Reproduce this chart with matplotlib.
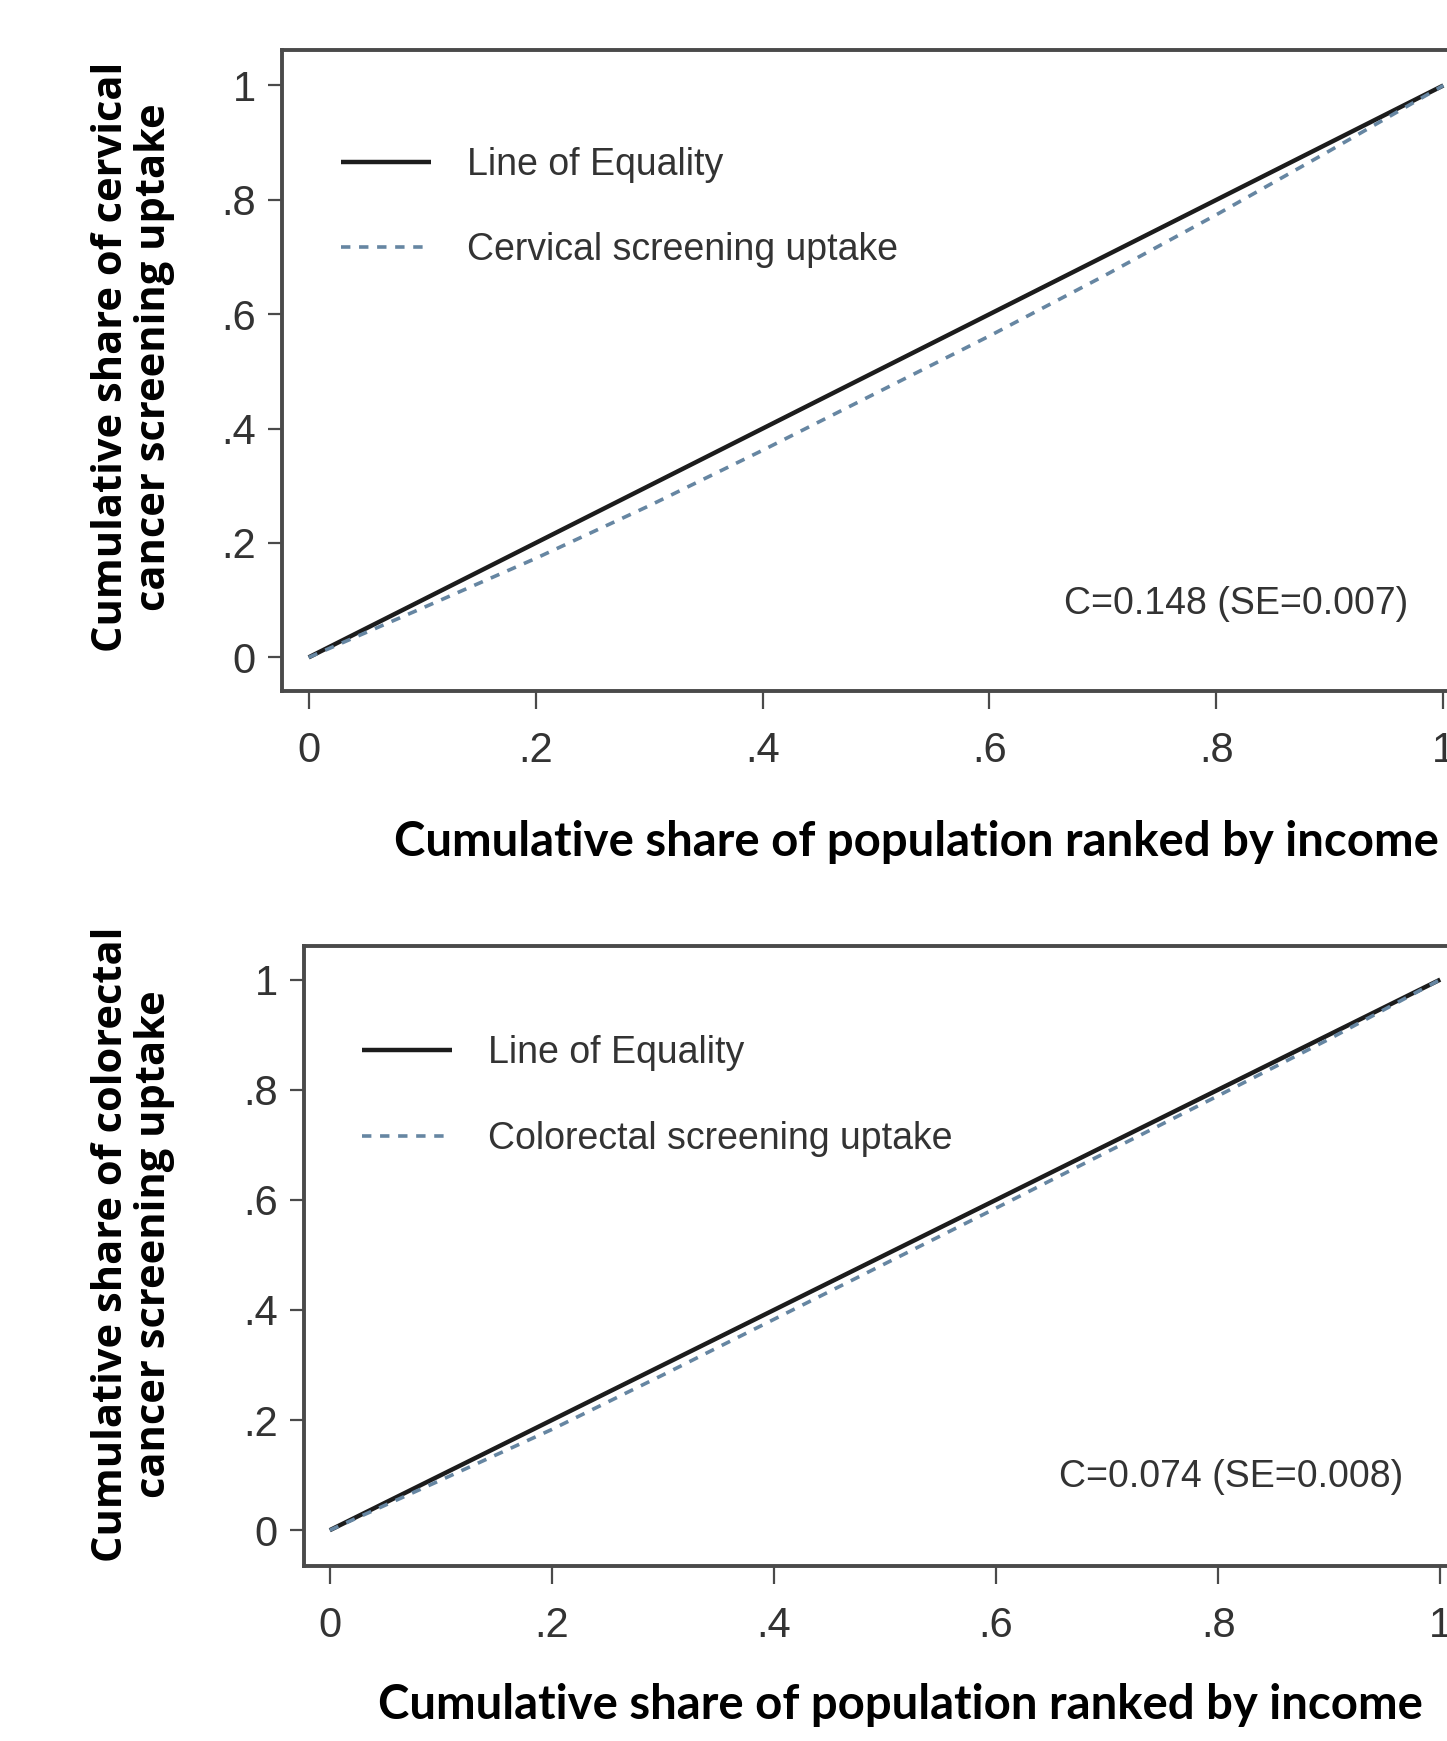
import matplotlib
matplotlib.use("Agg")
import matplotlib.pyplot as plt
from matplotlib import font_manager

# ---------------- data ----------------
pop_share = [0.0, 0.1, 0.2, 0.3, 0.4, 0.5, 0.6, 0.7, 0.8, 0.9, 1.0]
equality = [0.0, 0.1, 0.2, 0.3, 0.4, 0.5, 0.6, 0.7, 0.8, 0.9, 1.0]
cervical = [0.0, 0.086, 0.173, 0.265, 0.362, 0.462, 0.562, 0.666, 0.774, 0.886, 1.0]
colorectal = [0.0, 0.091, 0.183, 0.282, 0.383, 0.484, 0.585, 0.687, 0.789, 0.892, 1.0]
tick_vals = [0, 0.2, 0.4, 0.6, 0.8, 1.0]
tick_labels = ["0", ".2", ".4", ".6", ".8", "1"]
legend_equal = "Line of Equality"
legend_cerv = "Cervical screening uptake"
legend_colo = "Colorectal screening uptake"
annot_cerv = "C=0.148 (SE=0.007)"
annot_colo = "C=0.074 (SE=0.008)"
xlabel_txt = "Cumulative share of population ranked by income"
ylabel_cerv = "Cumulative share of cervical\ncancer screening uptake"
ylabel_colo = "Cumulative share of colorectal\ncancer screening uptake"

# ---------------- fonts ----------------
names = {f.name for f in font_manager.fontManager.ttflist}
narrow = "Liberation Sans Narrow" if "Liberation Sans Narrow" in names else "Liberation Sans"
bold_y = "Open Sans" if "Open Sans" in names else "DejaVu Sans"
bold_x = "Lato" if "Lato" in names else "DejaVu Sans"

W, H = 1447, 1741
fig = plt.figure(figsize=(W / 100, H / 100), dpi=100)

line_col = "#1c1c1c"
dash_col = "#6686a2"
frame_col = "#4a4a4a"
text_col = "#333333"
tick_fs = 30
leg_fs = 27


def panel(rect, xlim, ylim, series, label, annot, annot_xy, leg_anchor):
    ax = fig.add_axes(rect)
    ax.set_xlim(*xlim)
    ax.set_ylim(*ylim)
    ax.plot(pop_share, equality, color=line_col, lw=3.2, label=legend_equal,
            solid_capstyle="butt")
    ax.plot(pop_share, series, color=dash_col, lw=2.6, dashes=(2.6, 2.4),
            label=label)
    for s in ["top", "left", "bottom", "right"]:
        ax.spines[s].set_color(frame_col)
        ax.spines[s].set_linewidth(2.8)
    ax.set_xticks(tick_vals)
    ax.set_xticklabels(tick_labels)
    ax.set_yticks(tick_vals)
    ax.set_yticklabels(tick_labels)
    ax.tick_params(axis="y", length=10, width=1.6, pad=9, color=frame_col,
                   labelsize=tick_fs, labelcolor=text_col)
    ax.tick_params(axis="x", length=13, width=1.6, pad=16, color=frame_col,
                   labelsize=tick_fs, labelcolor=text_col)
    for lab in ax.get_xticklabels() + ax.get_yticklabels():
        lab.set_family(narrow)
    leg = ax.legend(loc="upper left", bbox_to_anchor=leg_anchor, frameon=False,
                    prop={"family": narrow, "size": leg_fs}, handlelength=2.4,
                    handletextpad=0.95, labelspacing=1.32, borderpad=0,
                    borderaxespad=0)
    for t in leg.get_texts():
        t.set_color(text_col)
    ax.text(annot_xy[0], annot_xy[1], annot, transform=ax.transAxes,
            ha="right", va="center", family=narrow, fontsize=leg_fs,
            color=text_col)
    return ax


# top panel
top_rect = [282 / W, 1 - 691 / H, 1188 / W, (691 - 50) / H]
panel(top_rect, (-0.0235, 1.0235), (-0.0588, 1.062), cervical, legend_cerv,
      annot_cerv, (0.9477, 0.135), (0.0497, 0.849))

# bottom panel
bot_rect = [304 / W, 1 - 1566 / H, 1162 / W, (1566 - 946) / H]
panel(bot_rect, (-0.0232, 1.0232), (-0.065, 1.061), colorectal, legend_colo,
      annot_colo, (0.9458, 0.1435), (0.0499, 0.856))

# axis titles
fig.text(916 / W, 1 - 842 / H, xlabel_txt, ha="center", va="center",
         family=bold_x, weight="bold", fontsize=34)
fig.text(900 / W, 1 - 1705 / H, xlabel_txt, ha="center", va="center",
         family=bold_x, weight="bold", fontsize=34)
fig.text(133 / W, 1 - 357 / H, ylabel_cerv, ha="center", va="center",
         rotation=90, family=bold_y, weight="bold", fontsize=30,
         multialignment="center", linespacing=1.06)
fig.text(133 / W, 1 - 1244 / H, ylabel_colo, ha="center", va="center",
         rotation=90, family=bold_y, weight="bold", fontsize=30,
         multialignment="center", linespacing=1.06)

fig.savefig("out.png", dpi=100)
